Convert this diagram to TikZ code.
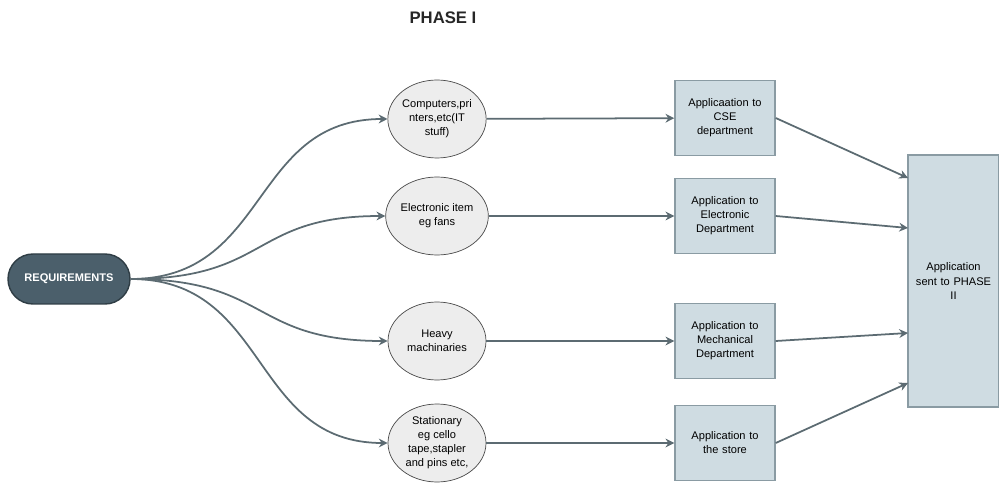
\documentclass[tikz,border=0pt]{standalone}
\usepackage{fontspec}
\setmainfont{Liberation Sans}
\usetikzlibrary{positioning,shapes.geometric,arrows.meta}
\definecolor{reqfill}{HTML}{4B5F6B}
\definecolor{reqline}{HTML}{2F3D45}
\definecolor{itemfill}{HTML}{EDEDED}
\definecolor{itemline}{HTML}{4A4A4A}
\definecolor{appfill}{HTML}{CFDCE2}
\definecolor{appline}{HTML}{8A9BA3}
\definecolor{linkcol}{HTML}{5C6B72}
\begin{document}
\begin{tikzpicture}[
    node distance=3.78cm,
    font=\fontsize{6.3}{8}\selectfont,
    req/.style={rectangle, rounded corners=0.5cm, draw=reqline, thick, fill=reqfill, text=white, font=\fontsize{6.3}{8}\selectfont\bfseries, minimum width=2.44cm, minimum height=1cm, inner sep=0pt},
    item/.style={ellipse, draw=itemline, fill=itemfill, minimum width=1.96cm, minimum height=1.56cm, align=center, inner sep=0pt},
    appbox/.style={rectangle, draw=appline, thick, fill=appfill, minimum width=2cm, minimum height=1.5cm, text width=1.7cm, align=center, inner sep=0pt},
    arrow/.style={-{Stealth[length=5pt,width=5pt]}, linkcol, line width=1pt}
]
    \useasboundingbox (0,0) rectangle (19.98,-9.68);

    % Title
    \node[font=\fontsize{9.5}{11}\selectfont\bfseries, text=black!85] (title) at (8.86,-0.36) {PHASE I};

    % Requirements
    \node[req] (req) at (1.38,-5.58) {REQUIREMENTS};

    % Items
    \node[item] (it1) at (8.74,-2.38) {Computers,pri\\nters,etc(IT\\stuff)};
    \node[item] (it2) at (8.74,-4.32) {Electronic item\\eg fans};
    \node[item] (it3) at (8.74,-6.82) {Heavy\\machinaries};
    \node[item] (it4) at (8.74,-8.86) {Stationary\\eg cello\\tape,stapler\\and pins etc,};

    % Applications
    \node[appbox] (app1) at (14.5,-2.36) {Applicaation to\\CSE\\department};
    \node[appbox] (app2) at (app1 |- it2) {Application to\\Electronic\\Department};
    \node[appbox] (app3) at (app1 |- it3) {Application to\\Mechanical\\Department};
    \node[appbox] (app4) at (app1 |- it4) {Application to\\the store};

    % Phase II
    \node[rectangle, draw=appline, thick, fill=appfill, minimum width=1.82cm, minimum height=5.04cm, text width=1.7cm, align=center, inner sep=0pt] (phase) at (19.07,-5.62) {Application\\sent to PHASE\\II};
    \coordinate (in1) at (18.16,-3.56);
    \coordinate (in2) at (18.16,-4.56);
    \coordinate (in3) at (18.16,-6.66);
    \coordinate (in4) at (18.16,-7.66);

    % Arrows
    \draw[arrow] (req.east) .. controls (5.4,-5.58) and (5.0,-2.38) .. (it1.west);
    \draw[arrow] (req.east) .. controls (5.4,-5.58) and (5.0,-4.32) .. (it2.west);
    \draw[arrow] (req.east) .. controls (5.4,-5.58) and (5.0,-6.82) .. (it3.west);
    \draw[arrow] (req.east) .. controls (5.4,-5.58) and (5.0,-8.86) .. (it4.west);
    \draw[arrow] (it1) -- (app1);
    \draw[arrow] (it2) -- (app2);
    \draw[arrow] (it3) -- (app3);
    \draw[arrow] (it4) -- (app4);
    \draw[arrow] (app1.east) -- (in1);
    \draw[arrow] (app2.east) -- (in2);
    \draw[arrow] (app3.east) -- (in3);
    \draw[arrow] (app4.east) -- (in4);
\end{tikzpicture}
\end{document}
